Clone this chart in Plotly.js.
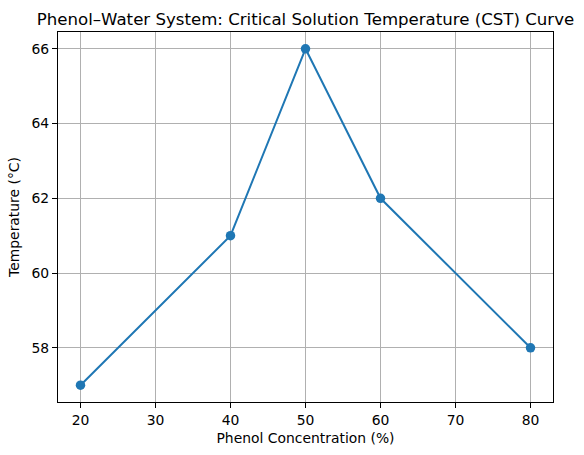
<!DOCTYPE html>
<html><head><meta charset="utf-8">
<script src="https://cdn.plot.ly/plotly-3.0.1.min.js"></script>
<style>body{margin:0;padding:0;background:#fff}</style>
</head><body>
<div id="chart" style="width:584px;height:455px"></div>
<script>
const concentration = [20, 40, 50, 60, 80];
const temperature = [57, 61, 66, 62, 58];
const xTicks = [20, 30, 40, 50, 60, 70, 80];
const yTicks = [58, 60, 62, 64, 66];

const font = "DejaVu Sans, sans-serif";
const trace = {
  x: concentration, y: temperature, type: 'scatter', mode: 'lines+markers',
  line: {color: '#1f77b4', width: 2},
  marker: {color: '#1f77b4', size: 9.5},
  cliponaxis: false, showlegend: false
};
const axisCommon = {
  showline: true, linecolor: '#000', linewidth: 1, mirror: true,
  ticks: 'outside', ticklen: 5, tickwidth: 1, tickcolor: '#000',
  showgrid: true, gridcolor: '#b0b0b0', gridwidth: 1, zeroline: false,
  tickfont: {family: font, size: 13.9, color: '#000'}
};
const layout = {
  width: 584, height: 455,
  margin: {l: 58, r: 31, t: 32, b: 53},
  paper_bgcolor: '#fff', plot_bgcolor: '#fff',
  font: {family: font, color: '#000'},
  title: {text: 'Phenol–Water System: Critical Solution Temperature (CST) Curve',
    font: {family: font, size: 16.6, color: '#000'},
    x: 0.5, xref: 'paper', xanchor: 'center', y: 1, yref: 'paper', yanchor: 'bottom', pad: {b: 7}},
  xaxis: Object.assign({}, axisCommon, {
    range: [17, 83], tickvals: xTicks, ticktext: xTicks.map(String),
    title: {text: 'Phenol Concentration (%)', font: {family: font, size: 13.9, color: '#000'}, standoff: 6}
  }),
  yaxis: Object.assign({}, axisCommon, {
    range: [56.55, 66.45], tickvals: yTicks, ticktext: yTicks.map(String),
    title: {text: 'Temperature (°C)', font: {family: font, size: 13.9, color: '#000'}, standoff: 8}
  })
};
Plotly.newPlot('chart', [trace], layout, {displayModeBar: false, staticPlot: true});
</script>
</body></html>
